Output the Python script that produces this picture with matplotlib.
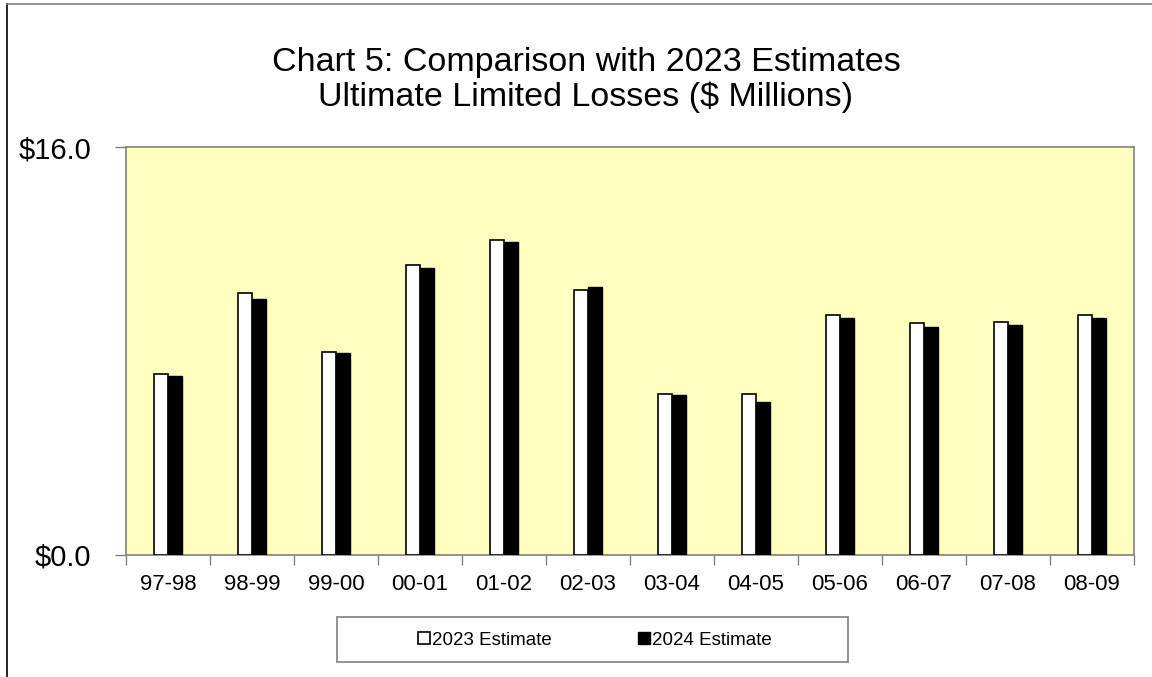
import matplotlib
matplotlib.use('Agg')

import matplotlib.pyplot as plt
import numpy as np
from matplotlib.lines import Line2D
from matplotlib.patches import Rectangle

plt.rcParams.update({
    'font.family': ['Liberation Sans', 'DejaVu Sans'],
})

years = ['97-98', '98-99', '99-00', '00-01', '01-02', '02-03',
         '03-04', '04-05', '05-06', '06-07', '07-08', '08-09']
est_2023 = [7.08, 10.27, 7.98, 11.36, 12.37, 10.39, 6.32, 6.32, 9.41, 9.08, 9.12, 9.41]
est_2024 = [7.01, 10.05, 7.93, 11.25, 12.28, 10.51, 6.29, 6.00, 9.29, 8.96, 9.03, 9.28]
y_ticks = [0.0, 16.0]

W, H = 1152, 677
fig = plt.figure(figsize=(W / 100, H / 100), dpi=100)
ax = fig.add_axes([126 / W, 1 - 555 / H, 1008 / W, 408 / H])
ax.set_facecolor('#FFFFC0')

x = np.arange(len(years))
bw = 0.17
ax.bar(x - bw / 2, est_2023, bw, color='white', edgecolor='black', linewidth=1.2, zorder=3)
ax.bar(x + bw / 2, est_2024, bw, color='black', edgecolor='black', linewidth=1.0, zorder=3)

ax.set_xlim(-0.5, len(years) - 0.5)
ax.set_ylim(0, 16)
ax.set_yticks(y_ticks)
ax.set_yticklabels([f'${v:.1f}' for v in y_ticks])
ax.tick_params(axis='y', length=8, width=1, color='#808080', pad=17, labelsize=21)

# ticks between categories, labels at centres
ax.set_xticks(np.arange(len(years) + 1) - 0.5)
ax.set_xticklabels([])
ax.set_xticks(x, minor=True)
ax.set_xticklabels(years, minor=True)
ax.tick_params(axis='x', which='major', length=7, width=1, color='#808080')
ax.tick_params(axis='x', which='minor', length=0, pad=14, labelsize=16)

for s in ax.spines.values():
    s.set_color('#808080')
    s.set_linewidth(1.2)

fig.text(586 / W, 1 - 62 / H, 'Chart 5: Comparison with 2023 Estimates',
         ha='center', va='center', fontsize=24.5)
fig.text(586 / W, 1 - 97 / H, 'Ultimate Limited Losses ($ Millions)',
         ha='center', va='center', fontsize=24.5)

# legend box
fig.patches.append(Rectangle((337 / W, 1 - 662 / H), 511 / W, 45 / H,
                             transform=fig.transFigure, facecolor='white',
                             edgecolor='#808080', linewidth=1.2))
handles = [
    Line2D([], [], marker='s', linestyle='none', markersize=8,
           markerfacecolor='white', markeredgecolor='black', markeredgewidth=1.2),
    Line2D([], [], marker='s', linestyle='none', markersize=8,
           markerfacecolor='black', markeredgecolor='black'),
]
fig.legend(handles, ['2023 Estimate', '2024 Estimate'], loc='center',
           bbox_to_anchor=(595 / W, 1 - 640 / H), ncol=2, frameon=False,
           fontsize=13.5, handlelength=0.6, handletextpad=0.12, columnspacing=4.6)

# outer chart border (left and top visible)
fig.add_artist(Line2D([7 / W, 7 / W], [0, 1 - 4 / H], transform=fig.transFigure,
                      color='black', linewidth=1.2))
fig.add_artist(Line2D([7 / W, 1], [1 - 4 / H, 1 - 4 / H], transform=fig.transFigure,
                      color='#808080', linewidth=1.2))

plt.savefig('out.png', dpi=100)
plt.close()
